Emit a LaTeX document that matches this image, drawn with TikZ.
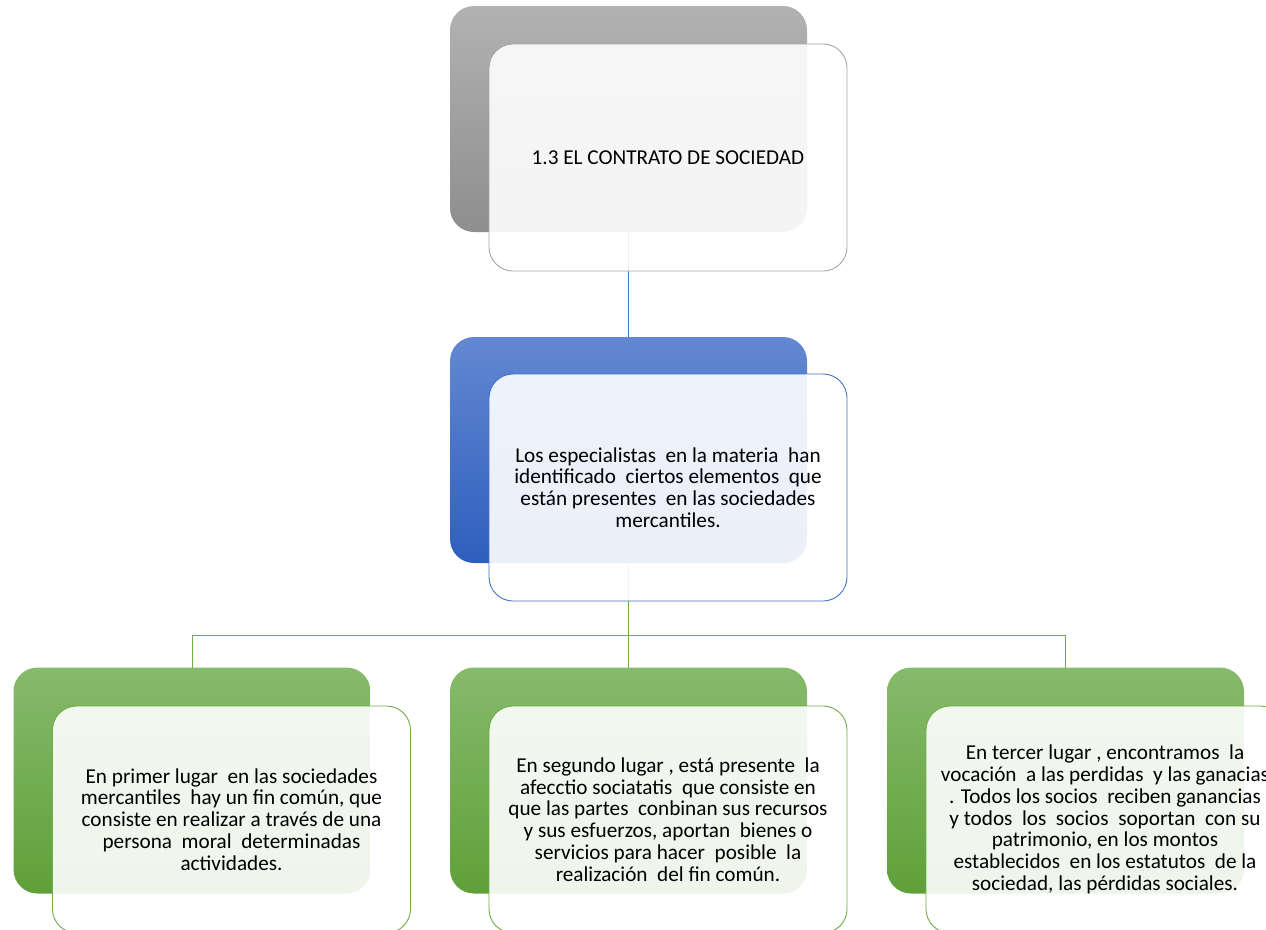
\documentclass[tikz,border=0pt]{standalone}
\usepackage{fontspec}
\setmainfont{Carlito}
\definecolor{gback1}{HTML}{B2B2B2}
\definecolor{gback2}{HTML}{8E8E8E}
\definecolor{gline}{HTML}{A5A5A5}
\definecolor{bback1}{HTML}{6388D1}
\definecolor{bback2}{HTML}{2E5EBE}
\definecolor{bline}{HTML}{4472C4}
\definecolor{nback1}{HTML}{86BA6C}
\definecolor{nback2}{HTML}{60A038}
\definecolor{nline}{HTML}{70AD47}
\tikzset{
  backbox/.style={rectangle, rounded corners=24pt, minimum width=357pt, minimum height=226pt, inner sep=0pt, outer sep=0pt},
  frontbox/.style={rectangle, rounded corners=24pt, minimum width=358pt, minimum height=227pt, inner sep=0pt, outer sep=0pt,
    fill=white, fill opacity=0.9, text opacity=1, line width=0.9pt, align=center, text=black,
    font=\fontsize{21.2pt}{21.8pt}\selectfont},
  conn/.style={line width=0.9pt},
}
\begin{document}
\begin{tikzpicture}[x=1pt,y=-1pt]
\useasboundingbox (0,0) rectangle (1266,929);
\clip (0,0) rectangle (1266,929);
\fill[white] (0,0) rectangle (1266,929);
% back boxes
\node[backbox, top color=gback1, bottom color=gback2] (b1) at (628.5,119) {};
\node[backbox, top color=bback1, bottom color=bback2] (b2) at (628.5,450) {};
\node[backbox, top color=nback1, bottom color=nback2] (b3) at (192,780.5) {};
\node[backbox, top color=nback1, bottom color=nback2] (b4) at (628.5,780.5) {};
\node[backbox, top color=nback1, bottom color=nback2] (b5) at (1065.5,780.5) {};
% connectors
\coordinate (j) at (628.5,635);
\draw[conn, bline] (b1.south) -- (b2.north);
\draw[conn, nline] (b2.south) -- (j);
\draw[conn, nline] (j) -| (b3.north);
\draw[conn, nline] (j) -| (b5.north);
\draw[conn, nline] (j) -- (b4.north);
% front boxes
\node[frontbox, draw=gline] (f1) at (668,157.5) {1.3 EL CONTRATO DE SOCIEDAD};
\node[frontbox, draw=bline] (f2) at (668,487.5) {Los especialistas\ \ en la materia\ \ han\\ identificado\ \ ciertos elementos\ \ que\\ están presentes\ \ en las sociedades\\ mercantiles.};
\node[frontbox, draw=nline] (f3) at (231.5,819.5) {En primer lugar\ \ en las sociedades\\ mercantiles\ \ hay un fin común, que\\ consiste en realizar a través de una\\ persona\ \ moral\ \ determinadas\\ actividades.};
\node[frontbox, draw=nline] (f4) at (668,819.5) {En segundo lugar , está presente\ \ la\\ afecctio sociatatis\ \ que consiste en\\ que las partes\ \ conbinan sus recursos\\ y sus esfuerzos, aportan\ \ bienes o\\ servicios para hacer\ \ posible\ \ la\\ realización\ \ del fin común.};
\node[frontbox, draw=nline] (f5) at (1105,819.5) {En tercer lugar , encontramos\ \ la\\ vocación\ \ a las perdidas\ \ y las ganacias\\ . Todos los socios\ \ reciben ganancias\\ y todos\ \ los\ \ socios\ \ soportan\ \ con su\\ patrimonio, en los montos\\ establecidos\ \ en los estatutos\ \ de la\\ sociedad, las pérdidas sociales.};
\end{tikzpicture}
\end{document}
